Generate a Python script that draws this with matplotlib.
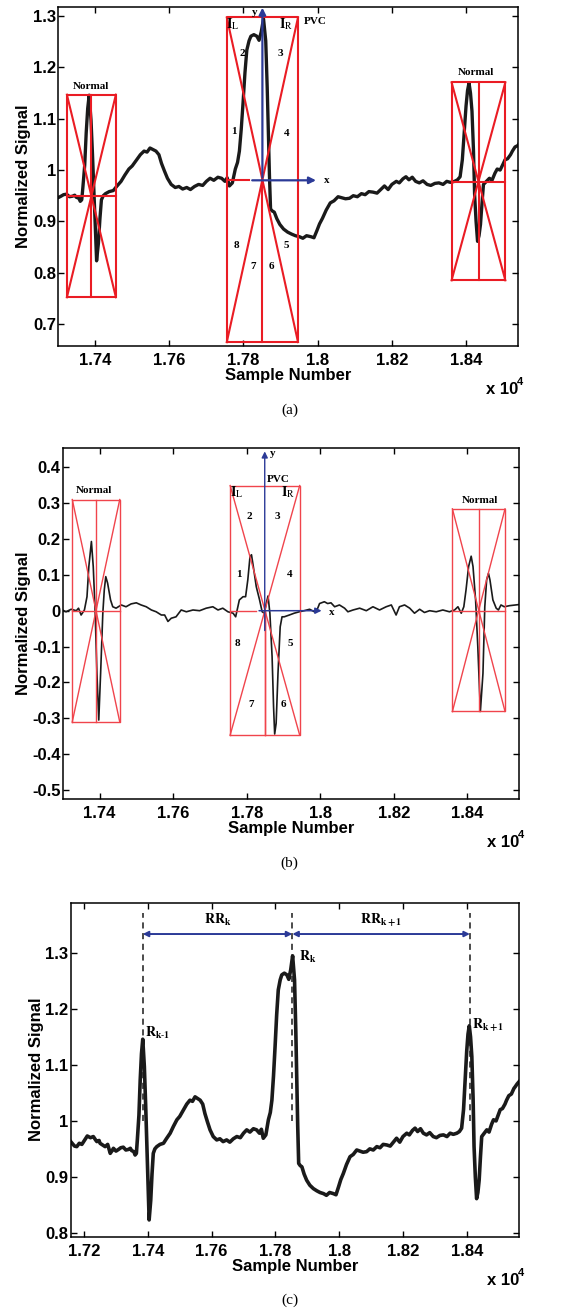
import matplotlib
matplotlib.use("Agg")
import matplotlib.pyplot as plt
from matplotlib.ticker import FixedLocator, FuncFormatter

plt.rcParams['font.family'] = ['Liberation Sans', 'DejaVu Sans']
plt.rcParams['mathtext.fontset'] = 'stix'

# raw ECG (panels a and c), sample number vs normalized value
ecg_x = [17158, 17170, 17177, 17185, 17193, 17202, 17210, 17220, 17229, 17236, 17240, 17247,
         17250, 17258, 17266, 17274, 17282, 17288, 17292, 17300, 17308, 17315, 17323, 17331,
         17339, 17345, 17349, 17356, 17360, 17364, 17367, 17372, 17376, 17380, 17384, 17389,
         17393, 17397, 17401, 17404, 17409, 17413, 17417, 17422, 17428, 17438, 17449, 17458,
         17470, 17480, 17491, 17500, 17512, 17522, 17532, 17540, 17548, 17556, 17564, 17572,
         17579, 17587, 17595, 17605, 17616, 17626, 17636, 17647, 17657, 17668, 17679, 17690,
         17700, 17710, 17720, 17731, 17741, 17750, 17756, 17762, 17770, 17778, 17784, 17789,
         17794, 17799, 17804, 17809, 17815, 17820, 17828, 17836, 17842, 17848, 17854, 17860,
         17864, 17867, 17870, 17873, 17878, 17883, 17890, 17898, 17908, 17919, 17930, 17940,
         17951, 17960, 17970, 17982, 17990, 17998, 18005, 18013, 18023, 18034, 18044, 18055,
         18065, 18075, 18086, 18096, 18107, 18118, 18128, 18138, 18149, 18160, 18170, 18180,
         18190, 18200, 18212, 18220, 18230, 18238, 18246, 18255, 18264, 18274, 18284, 18295,
         18305, 18316, 18327, 18338, 18348, 18358, 18369, 18377, 18384, 18390, 18395, 18400,
         18404, 18408, 18412, 18416, 18420, 18423, 18427, 18431, 18435, 18439, 18443, 18447,
         18455, 18463, 18470, 18478, 18484, 18492, 18500, 18505, 18512, 18520, 18525, 18532,
         18540, 18548, 18552, 18558, 18564]
ecg_y = [0.963, 0.955, 0.954, 0.960, 0.958, 0.966, 0.973, 0.970, 0.972, 0.966, 0.963, 0.965,
         0.960, 0.957, 0.954, 0.958, 0.942, 0.947, 0.951, 0.946, 0.949, 0.952, 0.953, 0.948,
         0.949, 0.951, 0.947, 0.945, 0.939, 0.942, 0.966, 1.010, 1.073, 1.120, 1.146, 1.097,
         1.030, 0.954, 0.880, 0.823, 0.858, 0.905, 0.942, 0.950, 0.954, 0.958, 0.960, 0.968,
         0.978, 0.990, 1.002, 1.008, 1.020, 1.030, 1.037, 1.035, 1.043, 1.040, 1.037, 1.030,
         1.013, 0.998, 0.984, 0.972, 0.966, 0.968, 0.963, 0.966, 0.962, 0.968, 0.972, 0.970,
         0.978, 0.984, 0.980, 0.986, 0.984, 0.978, 0.985, 0.969, 0.975, 1.002, 1.015, 1.037,
         1.080, 1.133, 1.190, 1.234, 1.252, 1.261, 1.264, 1.261, 1.253, 1.270, 1.295, 1.252,
         1.160, 1.073, 0.990, 0.924, 0.920, 0.918, 0.905, 0.894, 0.885, 0.879, 0.875, 0.872,
         0.870, 0.867, 0.872, 0.870, 0.868, 0.882, 0.895, 0.906, 0.922, 0.936, 0.940, 0.948,
         0.946, 0.944, 0.945, 0.950, 0.948, 0.954, 0.952, 0.958, 0.957, 0.955, 0.962, 0.969,
         0.962, 0.972, 0.978, 0.975, 0.983, 0.987, 0.981, 0.986, 0.978, 0.975, 0.979, 0.972,
         0.970, 0.974, 0.975, 0.972, 0.978, 0.976, 0.978, 0.981, 0.987, 1.020, 1.073, 1.125,
         1.155, 1.170, 1.150, 1.115, 1.040, 0.954, 0.900, 0.861, 0.872, 0.894, 0.935, 0.972,
         0.978, 0.984, 0.980, 0.994, 1.002, 1.000, 1.012, 1.020, 1.022, 1.030, 1.037, 1.045,
         1.048, 1.058, 1.061, 1.066, 1.070]

# filtered ECG (panel b)
filt_x = [17299, 17309, 17323, 17337, 17343, 17350, 17359, 17366, 17371, 17378, 17383, 17388,
          17393, 17398, 17403, 17409, 17413, 17417, 17422, 17430, 17436, 17445, 17459, 17472,
          17486, 17500, 17513, 17527, 17541, 17554, 17568, 17577, 17586, 17595, 17608, 17622,
          17636, 17654, 17672, 17690, 17708, 17722, 17735, 17749, 17763, 17770, 17776, 17780,
          17790, 17797, 17803, 17809, 17813, 17818, 17826, 17835, 17842, 17848, 17853, 17858,
          17863, 17869, 17873, 17876, 17880, 17885, 17891, 17896, 17902, 17916, 17929, 17943,
          17956, 17971, 17984, 17993, 17998, 18011, 18020, 18029, 18039, 18052, 18066, 18075,
          18089, 18107, 18125, 18143, 18161, 18179, 18193, 18206, 18215, 18229, 18243, 18256,
          18270, 18283, 18297, 18315, 18333, 18351, 18365, 18374, 18383, 18390, 18396, 18403,
          18410, 18415, 18422, 18428, 18435, 18442, 18447, 18452, 18457, 18461, 18469, 18478,
          18484, 18491, 18500, 18514, 18539]
filt_y = [0.002, -0.003, 0.004, 0.000, 0.007, -0.012, 0.002, 0.039, 0.123, 0.193, 0.123, 0.002,
          -0.175, -0.305, -0.175, -0.007, 0.058, 0.095, 0.077, 0.030, 0.011, 0.007, 0.016, 0.011,
          0.019, 0.022, 0.016, 0.011, 0.002, -0.003, -0.012, -0.012, -0.030, -0.021, -0.017, 0.002,
          -0.003, 0.002, 0.000, 0.007, 0.011, 0.002, 0.007, -0.003, -0.007, -0.017, 0.011, 0.030,
          0.039, 0.039, 0.086, 0.151, 0.156, 0.123, 0.067, 0.030, -0.003, -0.007, 0.020, 0.041,
          -0.007, -0.128, -0.268, -0.344, -0.314, -0.175, -0.045, -0.017, -0.017, -0.012, -0.007, -0.003,
          0.000, 0.004, -0.003, 0.007, 0.020, 0.025, 0.020, 0.022, 0.011, 0.016, 0.007, -0.003,
          0.002, 0.007, 0.000, 0.011, 0.002, 0.011, 0.016, -0.012, 0.011, 0.016, 0.007, -0.007,
          0.004, -0.005, 0.000, -0.003, 0.002, -0.003, 0.002, 0.011, -0.007, 0.011, 0.058, 0.123,
          0.152, 0.123, 0.030, -0.100, -0.281, -0.175, 0.011, 0.086, 0.104, 0.086, 0.030, 0.007,
          0.002, 0.016, 0.011, 0.014, 0.017]

# boxes: x0, x1, y_bottom, y_top, x_center, y_horizontal
boxes_a = [(17324, 17456, 0.752, 1.147, 17390, 0.949),
           (17755, 17947, 0.6645, 1.2975, 17851, 0.980),
           (18361, 18506, 0.785, 1.171, 18434, 0.977)]
boxes_b = [(17326, 17455, -0.310, 0.310, 17390, 0.0),
           (17755, 17944, -0.347, 0.349, 17849, 0.0),
           (18359, 18502, -0.281, 0.284, 18431, 0.0)]

# octant numbers of the PVC box
octants = ['1', '2', '3', '4', '5', '6', '7', '8']
oct_x_a = [17775, 17796, 17899, 17917, 17915, 17875, 17825, 17780]
oct_y_a = [1.076, 1.227, 1.227, 1.072, 0.852, 0.811, 0.811, 0.852]
oct_x_b = [17780, 17808, 17883, 17918, 17919, 17899, 17811, 17776]
oct_y_b = [0.100, 0.264, 0.262, 0.102, -0.091, -0.261, -0.261, -0.091]

# R peaks (panel c)
r_peaks = [17384, 17853, 18410]
r_names = [r'$\mathbf{R_{k\text{-}1}}$', r'$\mathbf{R_k}$', r'$\mathbf{R_{k+1}}$']
r_lab_x = [17392, 17873, 18415]
r_lab_y = [1.157, 1.293, 1.172]
rr_names = [r'$\mathbf{RR_k}$', r'$\mathbf{RR_{k+1}}$']

xticks_ab = [17400, 17600, 17800, 18000, 18200, 18400]
xticks_c = [17200, 17400, 17600, 17800, 18000, 18200, 18400]

RED = '#ea1c24'
RED_B = '#f0444c'
BLUE = '#2b3a97'
SERIF = 'Liberation Serif'


def fmt_x(v, pos):
    return ('%.2f' % (v / 1e4)).rstrip('0').rstrip('.')


def fmt_y(v, pos):
    s = ('%.1f' % v).rstrip('0').rstrip('.')
    return '0' if s == '-0' else s


def style(ax, xticks, yticks):
    ax.xaxis.set_major_locator(FixedLocator(xticks))
    ax.yaxis.set_major_locator(FixedLocator(yticks))
    ax.xaxis.set_major_formatter(FuncFormatter(fmt_x))
    ax.yaxis.set_major_formatter(FuncFormatter(fmt_y))
    ax.tick_params(direction='in', top=True, right=True, length=4, width=1,
                   labelsize=12)
    ax.tick_params(axis='x', pad=5)
    ax.tick_params(axis='y', pad=1.5)
    for lab in ax.get_xticklabels() + ax.get_yticklabels():
        lab.set_fontweight('bold')
    for sp in ax.spines.values():
        sp.set_linewidth(1.1)
    ax.set_xlabel('Sample Number', fontsize=12, fontweight='bold', labelpad=0)
    ax.set_ylabel('Normalized Signal', fontsize=12, fontweight='bold', labelpad=1)
    h = ax.get_position().height * 1313
    ax.text(1.0, -36 / h, 'x 10', transform=ax.transAxes, ha='right', va='top',
            fontsize=12, fontweight='bold')
    ax.text(1.012, -31 / h, '4', transform=ax.transAxes, ha='right', va='top',
            fontsize=8, fontweight='bold')


def draw_box(ax, b, color, lw, pvc=False, split=None):
    x0, x1, yb, yt, xc, yh = b
    ax.plot([x0, x1, x1, x0, x0], [yb, yb, yt, yt, yb], color=color, lw=lw, zorder=3)
    ax.plot([x0, x1], [yt, yb], color=color, lw=lw, zorder=3)
    ax.plot([x0, x1], [yb, yt], color=color, lw=lw, zorder=3)
    ax.plot([xc, xc], [yb, yt if not pvc else yh], color=color, lw=lw, zorder=3)
    if pvc:
        ax.plot([x0, split], [yh, yh], color=color, lw=lw, zorder=3)
    else:
        ax.plot([x0, x1], [yh, yh], color=color, lw=lw, zorder=3)


fig = plt.figure(figsize=(5.79, 13.13), dpi=100)

# ---------- (a) ----------
ax1 = fig.add_axes([0.1002, 0.7365, 0.7944, 0.2582])
ax1.plot(ecg_x, ecg_y, color='#1a1a1a', lw=2.4, zorder=2)
for i, b in enumerate(boxes_a):
    draw_box(ax1, b, RED, 1.5, pvc=(i == 1), split=17816)
pb = boxes_a[1]
ax1.annotate('', xy=(18003, pb[5]), xytext=(17816, pb[5]),
             arrowprops=dict(arrowstyle='-|>', color=BLUE, lw=1.6, mutation_scale=10),
             zorder=4)
ax1.annotate('', xy=(pb[4], 1.322), xytext=(pb[4], pb[5]), annotation_clip=False,
             arrowprops=dict(arrowstyle='-|>', color=BLUE, lw=1.6, mutation_scale=10),
             zorder=4)
ax1.text(18016, pb[5], 'x', family=SERIF, fontsize=8, fontweight='bold', va='center')
ax1.text(17829, 1.308, 'y', family=SERIF, fontsize=8, fontweight='bold', ha='center', va='center')
ax1.text(17994, 1.29, 'PVC', family=SERIF, fontsize=8, fontweight='bold', ha='center', va='center')
ax1.text(17771, 1.284, r'$\mathbf{I}_{\mathrm{L}}$', fontsize=10, ha='center', va='center')
ax1.text(17915, 1.284, r'$\mathbf{I}_{\mathrm{R}}$', fontsize=10, ha='center', va='center')
for s, x, y in zip(octants, oct_x_a, oct_y_a):
    ax1.text(x, y, s, family=SERIF, fontsize=8, fontweight='bold', ha='center', va='center')
ax1.text(17388, 1.162, 'Normal', family=SERIF, fontsize=8, fontweight='bold', ha='center', va='center')
ax1.text(18428, 1.19, 'Normal', family=SERIF, fontsize=8, fontweight='bold', ha='center', va='center')
ax1.set_xlim(17300, 18540)
ax1.set_ylim(0.657, 1.318)
style(ax1, xticks_ab, [0.7, 0.8, 0.9, 1.0, 1.1, 1.2, 1.3])

# ---------- (b) ----------
ax2 = fig.add_axes([0.1083, 0.3915, 0.7881, 0.2671])
ax2.plot(filt_x, filt_y, color='#1a1a1a', lw=1.2, zorder=2)
for i, b in enumerate(boxes_b):
    draw_box(ax2, b, RED_B, 1.0, pvc=(i == 1), split=17826)
pb = boxes_b[1]
ax2.plot([pb[4], pb[4]], [pb[2], pb[5]], color=RED_B, lw=1.0, zorder=3)
ax2.annotate('', xy=(18011, 0.0), xytext=(17826, 0.0),
             arrowprops=dict(arrowstyle='-|>', color=BLUE, lw=1.1, mutation_scale=9), zorder=4)
ax2.annotate('', xy=(pb[4], 0.452), xytext=(pb[4], -0.063), annotation_clip=False,
             arrowprops=dict(arrowstyle='-|>', color=BLUE, lw=1.0, mutation_scale=9), zorder=4)
ax2.text(18024, -0.005, 'x', family=SERIF, fontsize=8, fontweight='bold', va='center')
ax2.text(17871, 0.439, 'y', family=SERIF, fontsize=8, fontweight='bold', ha='center', va='center')
ax2.text(17885, 0.367, 'PVC', family=SERIF, fontsize=8, fontweight='bold', ha='center', va='center')
ax2.text(17773, 0.330, r'$\mathbf{I}_{\mathrm{L}}$', fontsize=10, ha='center', va='center')
ax2.text(17913, 0.330, r'$\mathbf{I}_{\mathrm{R}}$', fontsize=10, ha='center', va='center')
for s, x, y in zip(octants, oct_x_b, oct_y_b):
    ax2.text(x, y, s, family=SERIF, fontsize=8, fontweight='bold', ha='center', va='center')
ax2.text(17385, 0.335, 'Normal', family=SERIF, fontsize=8, fontweight='bold', ha='center', va='center')
ax2.text(18433, 0.306, 'Normal', family=SERIF, fontsize=8, fontweight='bold', ha='center', va='center')
ax2.set_xlim(17300, 18540)
ax2.set_ylim(-0.525, 0.453)
style(ax2, xticks_ab, [-0.5, -0.4, -0.3, -0.2, -0.1, 0.0, 0.1, 0.2, 0.3, 0.4])

# ---------- (c) ----------
ax3 = fig.add_axes([0.1221, 0.0581, 0.7743, 0.2544])
ax3.plot(ecg_x, ecg_y, color='#1a1a1a', lw=2.6, zorder=2)
for x in r_peaks:
    ax3.plot([x, x], [1.0, 1.372], color='#1a1a1a', lw=1.1, ls=(0, (4, 3)), zorder=3)
for i in range(2):
    ax3.annotate('', xy=(r_peaks[i + 1], 1.334), xytext=(r_peaks[i], 1.334),
                 arrowprops=dict(arrowstyle='<|-|>', color=BLUE, lw=1.4, mutation_scale=8,
                                 shrinkA=0, shrinkB=0), zorder=4)
    ax3.text((r_peaks[i] + r_peaks[i + 1]) / 2, 1.345, rr_names[i],
             fontsize=10, ha='center', va='bottom')
for s, x, y in zip(r_names, r_lab_x, r_lab_y):
    ax3.text(x, y, s, fontsize=10, ha='left', va='center')
ax3.set_xlim(17158, 18564)
ax3.set_ylim(0.793, 1.39)
style(ax3, xticks_c, [0.8, 0.9, 1.0, 1.1, 1.2, 1.3])

for y, s in [(0.6877, '(a)'), (0.3427, '(b)'), (0.0099, '(c)')]:
    fig.text(0.5, y, s, family=SERIF, fontsize=11, ha='center', va='center')

fig.savefig('out.png', dpi=100)
